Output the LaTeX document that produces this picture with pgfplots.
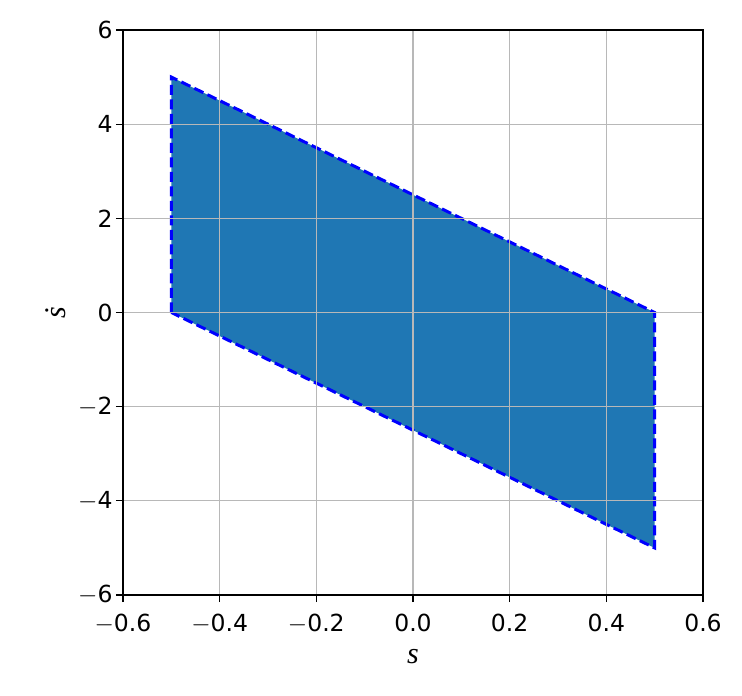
\documentclass[border=0pt]{standalone}
\usepackage{pgfplots}
\pgfplotsset{compat=1.18}
\usepackage{fontspec}
\setmainfont{DejaVu Sans}
\newfontfamily\serifit{Liberation Serif}[ItalicFont=* Italic]
\definecolor{mplblue}{HTML}{1F77B4}
\begin{document}
\begin{tikzpicture}
\begin{axis}[
  scale only axis,
  width=580pt, height=565pt,
  xmin=-0.6, xmax=0.6, ymin=-6, ymax=6,
  xtick={-0.6,-0.4,...,0.6},
  ytick={-6,-4,...,6},
  xticklabels={$-$0.6,$-$0.4,$-$0.2,0.0,0.2,0.4,0.6},
  yticklabels={$-$6,$-$4,$-$2,0,2,4,6},
  tick label style={font=\fontsize{23.5}{27}\selectfont},
  /pgf/number format/assume math mode=true,
  tick pos=left,
  grid=major,
  grid style={color=black!28, line width=1.2pt},
  axis line style={black, line width=1.3pt},
  major tick style={black, line width=1.3pt},
  tick align=outside,
  major tick length=7pt,
  axis on top,
  xlabel={\fontsize{30}{34}\selectfont\serifit\itshape s},
  ylabel={\fontsize{30}{34}\selectfont\serifit\itshape \.{s}},
  xlabel style={yshift=-8pt},
  ylabel style={yshift=6pt},
  xticklabel style={yshift=-9pt},
  clip=false,
]
\addplot[fill=mplblue, draw=blue, line width=3pt, dash pattern=on 10pt off 4.5pt]
  coordinates {(-0.5,0) (-0.5,5) (0.5,0) (0.5,-5)} -- cycle;
\end{axis}
\path[use as bounding box] ([shift={(-123pt,-100pt)}]current axis.south west) rectangle ([shift={(39pt,30pt)}]current axis.north east);
\end{tikzpicture}
\end{document}
